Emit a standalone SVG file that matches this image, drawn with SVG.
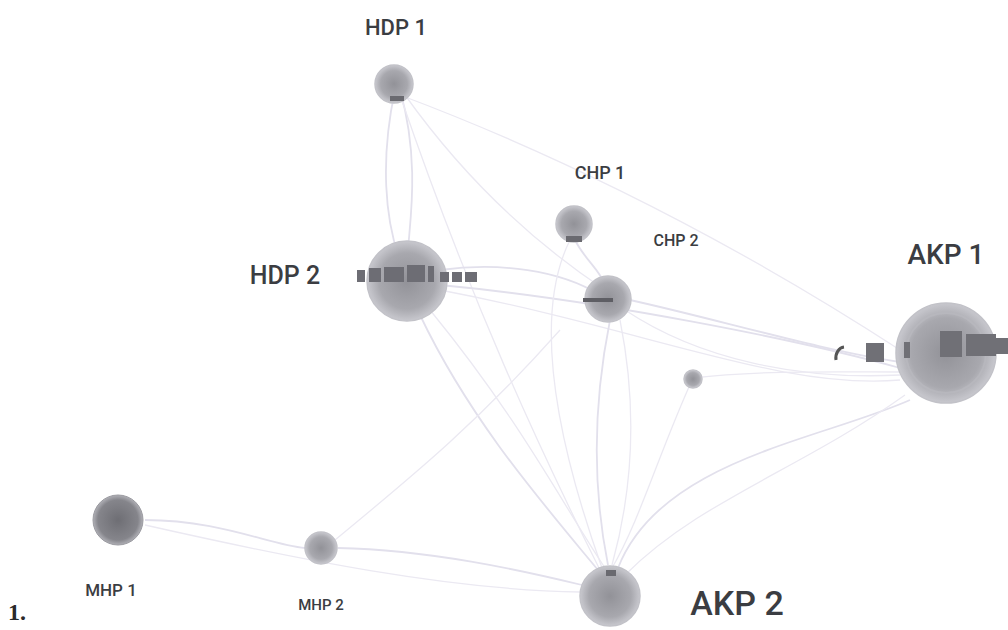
<svg xmlns="http://www.w3.org/2000/svg" width="1008" height="630" viewBox="0 0 1008 630">
<style>
.lbl{font-family:Roboto,"Liberation Sans",sans-serif;fill:#3b3d42;font-weight:500}
.e{fill:none;stroke:#e2e0ec;stroke-width:1.8}
.e2{fill:none;stroke:#ebe9f2;stroke-width:1.3}
.n{fill:url(#g);stroke:#c2c2c8;stroke-width:1.5}
</style>
<defs>
<radialGradient id="g" cx="50%" cy="50%" r="50%">
<stop offset="0" stop-color="#929298"/>
<stop offset="0.7" stop-color="#a8a8ae"/>
<stop offset="1" stop-color="#c8c8ce"/>
</radialGradient>
<radialGradient id="gd" cx="50%" cy="50%" r="50%">
<stop offset="0" stop-color="#6e6e74"/>
<stop offset="0.8" stop-color="#85858b"/>
<stop offset="1" stop-color="#b0b0b6"/>
</radialGradient>
</defs>
<rect width="1008" height="630" fill="#ffffff"/>
<g id="connectors">
<path class="e" d="M395,90 C380,160 385,220 400,260"/>
<path class="e" d="M400,90 C420,160 410,220 408,250"/>
<path class="e2" d="M400,95 C520,140 700,220 900,350"/>
<path class="e2" d="M405,95 C480,200 560,260 605,290"/>
<path class="e2" d="M400,95 C470,300 540,450 600,570"/>
<path class="e" d="M440,270 C500,262 560,270 600,295"/>
<path class="e" d="M440,285 C600,300 800,340 900,368"/>
<path class="e2" d="M440,290 C650,330 780,390 900,380"/>
<path class="e" d="M420,315 C470,420 540,500 598,570"/>
<path class="e2" d="M430,310 C520,420 560,500 605,568"/>
<path class="e" d="M575,240 C585,260 600,270 605,285"/>
<path class="e2" d="M570,240 C530,320 560,450 602,568"/>
<path class="e" d="M630,300 C720,320 820,350 900,362"/>
<path class="e2" d="M625,310 C700,360 800,380 900,375"/>
<path class="e" d="M610,320 C590,420 595,500 608,565"/>
<path class="e2" d="M620,320 C640,420 630,500 612,565"/>
<path class="e" d="M910,400 C820,440 660,460 618,568"/>
<path class="e2" d="M905,395 C800,470 700,500 625,575"/>
<path class="e2" d="M693,378 C760,370 840,372 900,372"/>
<path class="e2" d="M693,378 C660,450 640,520 612,568"/>
<path class="e" d="M145,520 C220,520 270,545 305,548"/>
<path class="e2" d="M145,525 C300,560 450,590 580,592"/>
<path class="e" d="M338,548 C430,550 520,570 582,585"/>
<path class="e2" d="M335,540 C420,470 480,420 560,330"/>
</g>
<g id="HDP1">
<circle class="n" cx="394" cy="84" r="19"/>
<rect x="390" y="96" width="14" height="5" fill="#6a6a70"/>
<text class="lbl" x="396" y="35" font-size="22" text-anchor="middle">HDP 1</text>
</g>
<g id="HDP2">
<circle class="n" cx="407" cy="281" r="40"/>
<g fill="#6d6d74">
<rect x="357" y="270" width="8" height="12"/><rect x="369" y="268" width="12" height="14"/><rect x="384" y="267" width="20" height="15"/><rect x="407" y="265" width="18" height="17"/><rect x="428" y="266" width="6" height="16"/><rect x="440" y="272" width="9" height="10"/><rect x="452" y="272" width="10" height="10"/><rect x="465" y="272" width="12" height="10"/>
</g>
<text class="lbl" x="285" y="284" font-size="25" text-anchor="middle">HDP 2</text>
</g>
<g id="CHP1">
<circle class="n" cx="574" cy="224" r="18"/>
<rect x="566" y="236" width="16" height="6" fill="#6a6a70"/>
<text class="lbl" x="600" y="179" font-size="18" text-anchor="middle">CHP 1</text>
</g>
<g id="CHP2">
<circle class="n" cx="608" cy="299" r="23"/>
<rect x="583" y="298" width="30" height="4" fill="#5e5e64"/>
<text class="lbl" x="676" y="246" font-size="16" text-anchor="middle">CHP 2</text>
</g>
<g id="AKP1">
<circle class="n" cx="946" cy="353" r="50"/>
<circle cx="946" cy="353" r="40" fill="none" stroke="#b7b7bd" stroke-width="2"/>
<g fill="#707076">
<rect x="866" y="343" width="18" height="19"/><rect x="904" y="342" width="6" height="16"/><rect x="940" y="331" width="22" height="26"/><rect x="966" y="334" width="30" height="22"/><rect x="995" y="338" width="13" height="16"/>
</g>
<path d="M836,360 a9,11 0 0 1 8,-13" fill="none" stroke="#555" stroke-width="3"/>
<text class="lbl" x="946" y="264" font-size="28" text-anchor="middle">AKP 1</text>
</g>
<g id="AKP2">
<circle class="n" cx="610" cy="596" r="30"/>
<rect x="606" y="570" width="10" height="6" fill="#6a6a70"/>
<text class="lbl" x="737" y="615" font-size="34" text-anchor="middle">AKP 2</text>
</g>
<g id="MHP1">
<circle cx="118" cy="520" r="25" fill="url(#gd)" stroke="#9a9aa0" stroke-width="1"/>
<text class="lbl" x="111" y="596" font-size="17" text-anchor="middle">MHP 1</text>
</g>
<g id="MHP2">
<circle class="n" cx="321" cy="548" r="16"/>
<text class="lbl" x="321" y="610" font-size="15" text-anchor="middle">MHP 2</text>
</g>
<g id="small">
<circle class="n" cx="693" cy="379" r="9"/>
</g>
<text x="8" y="620" font-family="'Liberation Serif',serif" font-weight="bold" font-size="24" fill="#2a2a2a">1.</text>
</svg>
